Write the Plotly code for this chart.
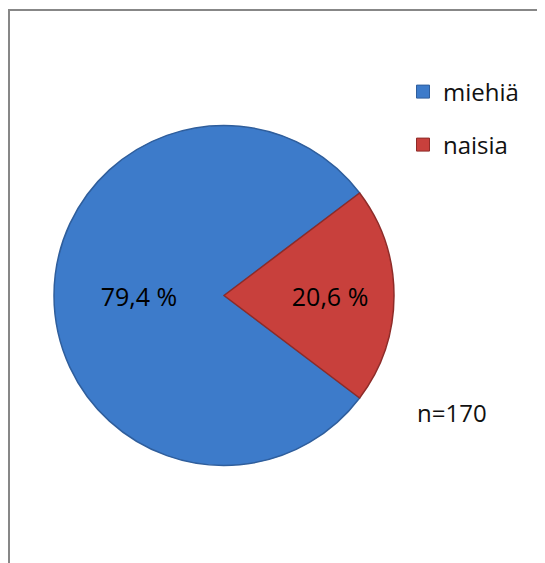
import plotly.graph_objects as go

# share of respondents by gender (n=170)
labels = ["miehiä", "naisia"]
shares = [79.4, 20.6]
colors = ["#3D7BCA", "#C8403C"]
edge_colors = ["#2F5E9C", "#8E2B28"]
n_note = "n=170"

W, H = 545, 563
OFF = 8  # the page body adds an 8px margin, positions below are page pixels minus this
font_family = "Open Sans, sans-serif"


def px(x):
    return (x - OFF) / W


def py(y):
    return (H - (y - OFF)) / H


fig = go.Figure()

# red slice sits centred on 3 o'clock, blue starts just below it
start = 90 + shares[1] / 100 * 360 / 2
cx, cy, r = 224, 295.5, 170

fig.add_trace(go.Pie(
    labels=labels,
    values=shares,
    sort=False,
    direction="clockwise",
    rotation=start,
    marker=dict(colors=colors, line=dict(color=edge_colors, width=1.5)),
    texttemplate="%{value:.1f} %",
    textposition="inside",
    insidetextorientation="horizontal",
    textfont=dict(family=font_family, size=25, color="black"),
    domain=dict(x=[px(cx - r), px(cx + r)], y=[py(cy + r), py(cy - r)]),
    showlegend=False,
    hoverinfo="label+percent",
))

# legend entries, one legend each so the spacing matches the original
legend_names = ["legend", "legend2"]
for lab, col, edge, lg in zip(labels, colors, edge_colors, legend_names):
    fig.add_trace(go.Scatter(
        x=[None], y=[None], mode="markers", name=lab, legend=lg,
        marker=dict(symbol="square", size=13, color=col,
                    line=dict(color=edge, width=1)),
    ))

legend_style = dict(font=dict(family=font_family, size=24, color="#111111"),
                    bgcolor="rgba(0,0,0,0)", xanchor="left", yanchor="middle",
                    x=px(403), itemwidth=30)

fig.update_layout(
    width=W, height=H,
    margin=dict(l=0, r=0, t=0, b=0),
    paper_bgcolor="white",
    plot_bgcolor="white",
    separators=", ",
    xaxis=dict(visible=False),
    yaxis=dict(visible=False),
    legend=dict(legend_style, y=py(92)),
    legend2=dict(legend_style, y=py(145)),
    annotations=[dict(
        text=n_note, xref="paper", yref="paper",
        x=px(452), y=py(412), xanchor="center", yanchor="middle",
        showarrow=False,
        font=dict(family=font_family, size=24, color="#111111"),
    )],
    shapes=[dict(
        type="rect", xref="paper", yref="paper",
        x0=px(9), y0=-0.1, x1=1.1, y1=py(10),
        line=dict(color="#878787", width=2),
    )],
)

fig.write_html("out.html")
